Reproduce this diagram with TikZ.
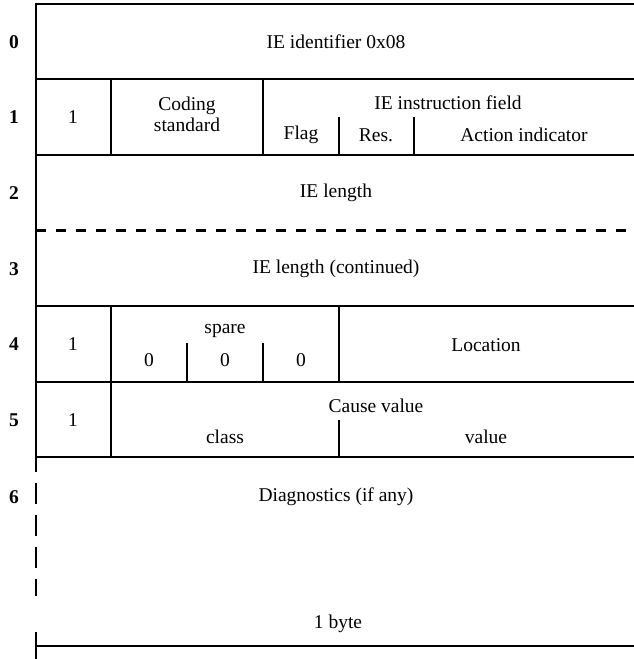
\documentclass[tikz,border=0pt]{standalone}
\usepackage{fontspec}
\setmainfont{Liberation Serif}
\begin{document}
\begin{tikzpicture}[x=1pt,y=-1pt,
  rule/.style={line width=2.4pt},
  thinrule/.style={line width=1.8pt},
  lbl/.style={font=\fontsize{19.5}{22}\selectfont, inner sep=0pt, anchor=center},
  rownum/.style={lbl, font=\fontsize{19.5}{22}\selectfont\bfseries}]
\useasboundingbox (0,0) rectangle (634,659);

% horizontal field boundaries
\draw[rule] (36,4) -- (634,4);
\draw[rule] (36,79) -- (634,79);
\draw[rule] (36,155) -- (634,155);
\draw[rule, dash pattern=on 10pt off 10pt] (36,230.5) -- (634,230.5);
\draw[rule] (36,306) -- (634,306);
\draw[rule] (36,382) -- (634,382);
\draw[rule] (36,457) -- (634,457);

% left edge of the octet column
\draw[rule] (36,2.8) -- (36,458);
\draw[rule, dash pattern=on 21pt off 11pt] (36,451) -- (36,596);
\draw[rule] (36,632) -- (36,659);

% octet 1 dividers
\draw[rule] (111,79) -- (111,155);
\draw[rule] (263,79) -- (263,155);
\draw[rule] (339,117) -- (339,155);
\draw[rule] (414,117) -- (414,155);

% octet 4 dividers
\draw[rule] (111,306) -- (111,382);
\draw[rule] (187,343) -- (187,382);
\draw[rule] (263,343) -- (263,382);
\draw[rule] (339,306) -- (339,382);

% octet 5 dividers
\draw[rule] (111,382) -- (111,457);
\draw[rule] (339,420) -- (339,457);

% width scale line
\draw[thinrule] (36,646) -- (634,646);

% octet numbers
\node[rownum] (n0) at (14,42) {0};
\node[rownum] (n1) at (14,117) {1};
\node[rownum] (n2) at (14,193) {2};
\node[rownum] (n3) at (14,269) {3};
\node[rownum] (n4) at (14,344) {4};
\node[rownum] (n5) at (14,420) {5};
\node[rownum] (n6) at (14,497) {6};

% field labels
\node[lbl] (ieid) at (336,42) {IE identifier 0x08};
\node[lbl] (ext1) at (73,117) {1};
\node[lbl, align=center] (coding) at (187,114) {Coding\\[-1pt]standard};
\node[lbl] (instr) at (448,103) {IE instruction field};
\node[lbl] (flag) at (301,135) {Flag};
\node[lbl] (res) at (376,135) {Res.};
\node[lbl] (action) at (524,135) {Action indicator};
\node[lbl] (len) at (336,193) {IE length};
\node[lbl] (lenc) at (336,269) {IE length (continued)};
\node[lbl] (ext4) at (73,344) {1};
\node[lbl] (spare) at (225,331) {spare};
\node[lbl] (z1) at (149,360) {0};
\node[lbl] (z2) at (225,360) {0};
\node[lbl] (z3) at (301,360) {0};
\node[lbl] (loc) at (486,345) {Location};
\node[lbl] (ext5) at (73,420) {1};
\node[lbl] (cause) at (376,406) {Cause value};
\node[lbl] (class) at (225,437) {class};
\node[lbl] (value) at (486,437) {value};
\node[lbl] (diag) at (336,497) {Diagnostics (if any)};
\node[lbl] (byte) at (338,624) {1 byte};
\end{tikzpicture}
\end{document}
